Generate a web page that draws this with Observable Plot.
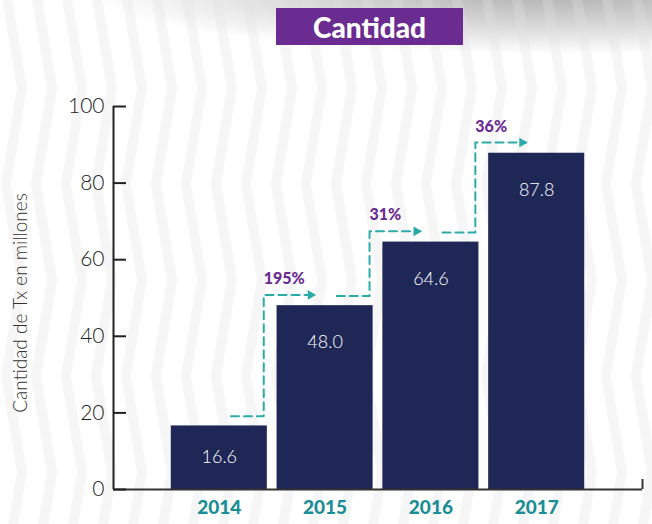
<!DOCTYPE html>
<html><head><meta charset="utf-8">
<script src="https://cdn.jsdelivr.net/npm/d3@7"></script>
<script src="https://cdn.jsdelivr.net/npm/@observablehq/plot@0.6"></script>
<style>
html,body{margin:0;padding:0;background:#fff;}
#wrap{position:relative;width:652px;height:524px;overflow:hidden;font-family:Lato,"Open Sans",sans-serif;}
#bg{position:absolute;left:0;top:0;width:652px;height:524px;}
#title{position:relative;height:60px;}
#title span{position:absolute;left:276px;top:8px;width:187px;height:37px;background:#6a2c91;color:#fff;font:900 28px Lato,sans-serif;display:flex;align-items:center;justify-content:center;}
#chart{position:relative;}
</style></head>
<body><div id="wrap"><div id="bg"></div><div id="title"><span>Cantidad</span></div><div id="chart"></div></div>
<script>
const years = ["2014", "2015", "2016", "2017"];
const values = [16.6, 48.0, 64.6, 87.8];
const growth = ["195%", "31%", "36%"];
const yTicks = [0, 20, 40, 60, 80, 100];

// decorative chevron background
(function(){
  let paths = "";
  for (const x0 of [-30, 0, 30]) {
    paths += `<polyline points='${x0+6},-104 ${x0+22},-8 ${x0+6},88 ${x0+22},184 ${x0+6},280' fill='none' stroke='rgb(225,225,225)' stroke-opacity='0.3' stroke-width='10'/>`;
  }
  const svg = `<svg xmlns='http://www.w3.org/2000/svg' width='30' height='192'>${paths}</svg>`;
  const url = "url(\"data:image/svg+xml," + encodeURIComponent(svg) + "\")";
  const bg = document.getElementById("bg");
  bg.style.background = url + " 0 -96px repeat, radial-gradient(ellipse 470px 62px at 560px -8px, rgba(175,175,175,1) 0%, rgba(200,200,200,0.7) 55%, rgba(255,255,255,0) 100%) no-repeat, #fff";
})();

const data = years.map((y, i) => ({i, year: y, value: values[i]}));
const hw = 0.454;
const arrows = [], arrowEnds = [];
growth.forEach((g, k) => {
  const lo = values[k] + 2.5, hi = values[k + 1] + 2.8;
  arrows.push({k, x: k + 0.11, y: lo}, {k, x: k + 0.42, y: lo}, {k, x: k + 0.42, y: hi}, {k, x: k + 0.9, y: hi});
  arrowEnds.push({k, x: k + 0.9, y: hi, vx: k + 0.42, label: g});
});

const plot = Plot.plot({
  width: 652, height: 464,
  marginLeft: 113, marginRight: 10, marginTop: 46, marginBottom: 35,
  style: {background: "transparent", overflow: "visible", fontFamily: "Lato, sans-serif"},
  x: {domain: [-1, 4], axis: null},
  y: {domain: [0, 100], axis: null},
  marks: [
    Plot.rectY(data, {x1: d => d.i - hw, x2: d => d.i + hw, y: "value", fill: "#1f2757"}),
    Plot.ruleX([-1], {y1: 0, y2: 100, stroke: "#222", strokeWidth: 2}),
    Plot.ruleY([0], {x1: -1, x2: 4, stroke: "#333", strokeWidth: 2}),
    Plot.ruleX([4], {y1: 0, y2: 2.6, stroke: "#333", strokeWidth: 2}),
    Plot.axisY({ticks: yTicks, tickSize: -13, text: null, stroke: "#222", strokeWidth: 2, label: null}),
    Plot.axisY({ticks: yTicks, tickSize: 0, tickPadding: 9, fontSize: 21, fontWeight: 300, fill: "#222", label: null}),
    Plot.text(["Cantidad de Tx en millones"], {frameAnchor: "left", textAnchor: "middle", dx: -93, dy: 5, rotate: -90, fontSize: 19, fontWeight: 300, fill: "#333"}),
    Plot.axisX({ticks: [0, 1, 2, 3], tickFormat: i => years[i], tickSize: 0, tickPadding: 11, fontSize: 19, fontWeight: 900, fill: "#1a8e96", label: null}),
    Plot.text(data, {x: "i", y: d => Math.max(d.value - 9.6, d.value / 2), text: d => d.value.toFixed(1), fill: "#fff", fontSize: 18, fontWeight: 300}),
    Plot.line(arrows, {x: "x", y: "y", z: "k", stroke: "#2aaba8", strokeWidth: 2, strokeDasharray: "8,5"}),
    Plot.dot(arrowEnds, {x: "x", y: "y", symbol: "triangle", r: 3.6, rotate: 90, fill: "#2aaba8", stroke: null, dx: -4}),
    Plot.text(arrowEnds, {x: "vx", y: "y", text: "label", dy: -16, textAnchor: "start", fill: "#6b2c91", fontWeight: 900, fontSize: 16})
  ]
});
document.getElementById("chart").appendChild(plot);
</script>
</body></html>
